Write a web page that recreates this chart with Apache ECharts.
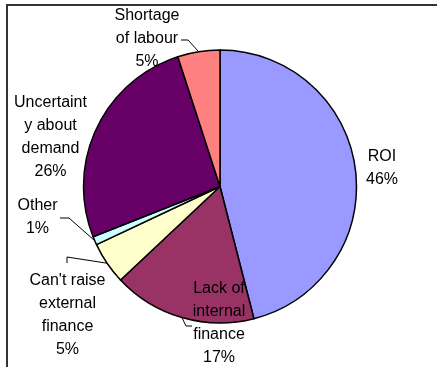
<!DOCTYPE html>
<html>
<head>
<meta charset="utf-8">
<script src="https://cdn.jsdelivr.net/npm/echarts@6/dist/echarts.min.js"></script>
<style>
  html, body { margin: 0; padding: 0; background: #fff; }
  #chart { width: 437px; height: 367px; }
</style>
</head>
<body>
<div id="chart"></div>
<script>
// Reasons for not investing, shares in percent
const categories = ['ROI', 'Lack of internal finance', "Can't raise external finance", 'Other', 'Uncertainty about demand', 'Shortage of labour'];
const shares = [46, 17, 5, 1, 26, 5];
// wrapped label text as it appears beside each slice
const labelText = ['ROI', 'Lack of\ninternal\nfinance', "Can't raise\nexternal\nfinance", 'Other', 'Uncertaint\ny about\ndemand', 'Shortage\nof labour'];
const sliceColors = ['#9999FF', '#993366', '#FFFFCC', '#CCFFFF', '#660066', '#FF8080'];

// centre of each label block, and the elbow/end of its leader line (null = no line)
const labelAnchor = [[382, 168.5], [219, 323.5], [67.5, 315.5], [37.5, 217], [50.5, 137], [147, 39]];
const leaderElbows = [null, [[186, 326], [192, 326]], [[67, 257], [67, 263]], [[69, 218], [60, 218]], null, [[188, 40], [181, 40]]];

const chart = echarts.init(document.getElementById('chart'), null, { renderer: 'canvas' });

const data = categories.map((name, i) => ({
  name: name,
  value: shares[i],
  itemStyle: { color: sliceColors[i] },
  labelLine: { show: leaderElbows[i] !== null }
}));

chart.setOption({
  animation: false,
  graphic: [{
    type: 'rect',
    shape: { x: 7, y: 5, width: 600, height: 600 },
    style: { fill: 'none', stroke: '#333', lineWidth: 2 },
    silent: true
  }],
  series: [{
    type: 'pie',
    center: [220, 186.5],
    radius: 136.5,
    startAngle: 90,
    clockwise: true,
    avoidLabelOverlap: false,
    emphasis: { disabled: true },
    itemStyle: { borderColor: '#000', borderWidth: 1.5 },
    label: {
      show: true,
      position: 'outside',
      fontFamily: 'Liberation Sans',
      fontSize: 16,
      lineHeight: 23,
      color: '#000',
      formatter: p => labelText[p.dataIndex] + '\n' + Math.round(p.percent) + '%'
    },
    labelLine: {
      length: 10,
      length2: 10,
      lineStyle: { color: '#000', width: 1 }
    },
    labelLayout: function (p) {
      const i = p.dataIndex;
      const a = labelAnchor[i];
      const out = { x: a[0], y: a[1], align: 'center', verticalAlign: 'middle' };
      if (leaderElbows[i] && p.labelLinePoints) {
        out.labelLinePoints = [p.labelLinePoints[0], leaderElbows[i][0], leaderElbows[i][1]];
      }
      return out;
    },
    data: data
  }]
});
</script>
</body>
</html>
